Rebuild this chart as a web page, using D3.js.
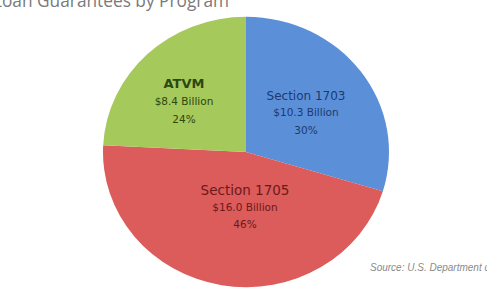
<!DOCTYPE html>
<html>
<head>
<meta charset="utf-8">
<script src="https://cdn.jsdelivr.net/npm/d3@7"></script>
<style>
  body { margin: 0; background: #fff; }
  svg { display: block; }
</style>
</head>
<body>
<div id="chart"></div>
<script>
const programs = ['Section 1703', 'Section 1705', 'ATVM'];
const amounts = [10.3, 16.0, 8.4];
const amountLabels = ['$10.3 Billion', '$16.0 Billion', '$8.4 Billion'];
const shareLabels = ['30%', '46%', '24%'];
const colors = ['#5b8fd8', '#dc5b5b', '#a6c95c'];
const textColors = ['#1c3a70', '#6b1a1a', '#2c4710'];

const width = 487;
const height = 291;
const cx = 246, cy = 152;
const radius = 143;

const svg = d3.select('#chart')
  .append('svg')
  .attr('width', width)
  .attr('height', height);

// titre coupé en haut à gauche, comme sur l'original
svg.append('text')
  .attr('x', 229)
  .attr('y', 7)
  .attr('text-anchor', 'end')
  .attr('font-family', 'Open Sans, sans-serif')
  .attr('font-size', 17.3)
  .attr('fill', '#7a7a7a')
  .text('DOE Loan Guarantees by Program');

const g = svg.append('g')
  .attr('transform', `translate(${cx},${cy}) scale(1,0.945)`);

const data = programs.map((p, i) => ({ label: p, value: amounts[i], i }));

const pie = d3.pie()
  .value(d => d.value)
  .sort(null);

const arc = d3.arc()
  .innerRadius(0)
  .outerRadius(radius);

g.selectAll('path')
  .data(pie(data))
  .enter()
  .append('path')
  .attr('d', arc)
  .attr('fill', d => colors[d.data.i]);

// étiquettes des parts (position de la 1re ligne, par rapport au centre)
const labelPos = [[60, -52], [-1, 43], [-62, -64]];
const lineGaps = [[16, 34], [16, 33], [17, 35]];
const nameSize = [12, 13.5, 13];

const labels = svg.append('g')
  .attr('font-family', 'DejaVu Sans, sans-serif')
  .attr('text-anchor', 'middle');

data.forEach((d, i) => {
  const x = cx + labelPos[i][0];
  const y = cy + labelPos[i][1];
  const t = labels.append('text')
    .attr('fill', textColors[i]);
  t.append('tspan')
    .attr('x', x).attr('y', y)
    .attr('font-size', nameSize[i])
    .attr('font-weight', i === 2 ? 'bold' : 'normal')
    .text(d.label);
  t.append('tspan')
    .attr('x', x).attr('y', y + lineGaps[i][0])
    .attr('font-size', 10.5)
    .text(amountLabels[i]);
  t.append('tspan')
    .attr('x', x).attr('y', y + lineGaps[i][1])
    .attr('font-size', 10.5)
    .text(shareLabels[i]);
});

svg.append('text')
  .attr('x', 370)
  .attr('y', 271)
  .attr('font-family', 'Liberation Sans, Arial, sans-serif')
  .attr('font-style', 'italic')
  .attr('font-size', 10)
  .attr('fill', '#8a8a8a')
  .text('Source: U.S. Department of Energy');
</script>
</body>
</html>
